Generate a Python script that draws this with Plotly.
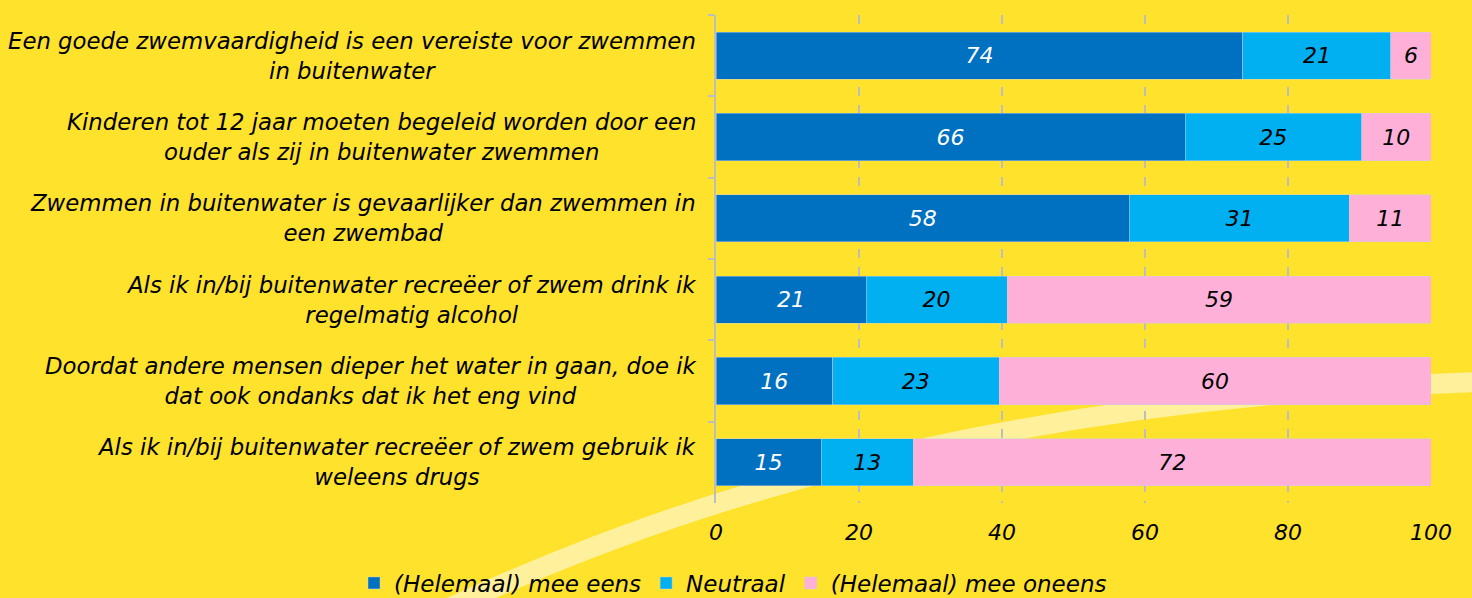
import plotly.graph_objects as go

categories = [
    "Een goede zwemvaardigheid is een vereiste voor zwemmen<br>in buitenwater",
    "Kinderen tot 12 jaar moeten begeleid worden door een<br>ouder als zij in buitenwater zwemmen",
    "Zwemmen in buitenwater is gevaarlijker dan zwemmen in<br>een zwembad",
    "Als ik in/bij buitenwater recreëer of zwem drink ik<br>regelmatig alcohol",
    "Doordat andere mensen dieper het water in gaan, doe ik<br>dat ook ondanks dat ik het eng vind",
    "Als ik in/bij buitenwater recreëer of zwem gebruik ik<br>weleens drugs",
]
eens = [73.7, 65.6, 57.8, 21.0, 16.3, 14.7]
neutraal = [20.7, 24.7, 30.8, 19.7, 23.3, 12.9]
oneens = [5.6, 9.7, 11.4, 59.3, 60.4, 72.4]
series_names = ["(Helemaal) mee eens", "Neutraal", "(Helemaal) mee oneens"]
x_ticks = [0, 20, 40, 60, 80, 100]

colors = ["#0070C0", "#00B0F0", "#FFB0D8"]
text_colors = ["white", "black", "black"]
BG = "#FFE22C"
BAND = "#FFF09C"
GRID = "#BDBDBD"
FONT = "DejaVu Sans"
FS = 22.8
FS_SMALL = 22
FS_LEGEND = 23

W, H = 1472, 598
ML, MR, MT, MB = 716, 41, 15, 95
pw, ph = W - ML - MR, H - MT - MB


def px2paper(px, py):
    return (px - ML) / pw, (H - MB - py) / ph


fig = go.Figure()
for name, vals, col, tcol in zip(series_names, [eens, neutraal, oneens], colors, text_colors):
    fig.add_trace(go.Bar(
        y=categories, x=vals, name=name, orientation="h",
        marker=dict(color=col, line=dict(color="rgba(200,210,220,0.6)", width=0.8)),
        texttemplate="%{x:.0f}", textposition="inside", insidetextanchor="middle",
        textangle=0, constraintext="none",
        textfont=dict(family=FONT, size=FS_SMALL, color=tcol, style="italic"),
        hoverinfo="skip",
    ))

# decorative band (background)
p0 = px2paper(440, 612)
c1 = px2paper(640, 520)
c2 = px2paper(950, 400)
p1 = px2paper(1480, 382)
path = f"M {p0[0]},{p0[1]} C {c1[0]},{c1[1]} {c2[0]},{c2[1]} {p1[0]},{p1[1]}"
fig.add_shape(type="path", path=path, xref="paper", yref="paper",
              line=dict(color=BAND, width=20), layer="below")

for cat in categories:
    fig.add_annotation(x=0, y=cat, xref="paper", yref="y", xanchor="right",
                       yanchor="middle", xshift=-18, text=cat, showarrow=False,
                       align="center",
                       font=dict(family=FONT, size=FS, color="black", style="italic"))

fig.update_layout(
    width=W, height=H, margin=dict(l=ML, r=MR, t=MT, b=MB, pad=0, autoexpand=False),
    paper_bgcolor=BG, plot_bgcolor="rgba(0,0,0,0)",
    barmode="stack", bargap=0.42,
    font=dict(family=FONT, size=FS, color="black", style="italic"),
    showlegend=True,
    legend=dict(orientation="h", x=px2paper(354, 0)[0], xanchor="left",
                y=px2paper(0, 583)[1], yanchor="middle",
                font=dict(family=FONT, size=FS_LEGEND, color="black", style="italic"),
                bgcolor="rgba(0,0,0,0)", itemwidth=30, traceorder="normal"),
    xaxis=dict(range=[0, 100], tickvals=x_ticks, showgrid=True, gridcolor=GRID,
               griddash="dash", gridwidth=1.5, zeroline=False, showline=False,
               ticks="", ticklabelstandoff=14,
               tickfont=dict(family=FONT, size=FS_SMALL, color="black", style="italic")),
    xaxis2=dict(range=[0, 100], overlaying="x", side="top", tickvals=x_ticks,
                showgrid=False, zeroline=False, showline=True, linecolor=GRID,
                linewidth=2, ticks="outside", ticklen=5, tickcolor=GRID, tickwidth=2,
                showticklabels=False, anchor="y"),
    yaxis=dict(autorange="reversed", showline=True, linecolor=GRID, linewidth=2,
               ticks="outside", tickson="boundaries", ticklen=6, tickcolor=GRID,
               tickwidth=2, showticklabels=False, showgrid=False, zeroline=False),
)

fig.write_html("out.html", config={"displayModeBar": False},
               post_script="document.body.style.margin='0';"
                           "document.body.style.background='" + BG + "';")
